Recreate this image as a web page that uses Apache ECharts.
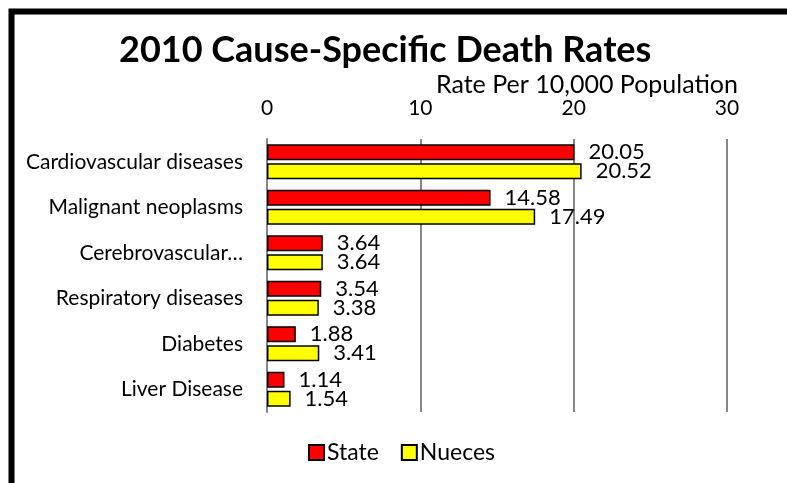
<!DOCTYPE html>
<html>
<head>
<meta charset="utf-8">
<script src="https://cdn.jsdelivr.net/npm/echarts@6/dist/echarts.min.js"></script>
<style>
html,body{margin:0;padding:0;background:#fff;}
#chart{width:787px;height:483px;}
</style>
</head>
<body>
<div id="chart"></div>
<script>
const categories = ["Cardiovascular diseases","Malignant neoplasms","Cerebrovascular…","Respiratory diseases","Diabetes","Liver Disease"];
const stateValues = [20.05, 14.58, 3.64, 3.54, 1.88, 1.14];
const nuecesValues = [20.52, 17.49, 3.64, 3.38, 3.41, 1.54];
const seriesNames = ["State","Nueces"];
const xTicks = [0, 10, 20, 30];

const FONT = 'Lato, "Open Sans", sans-serif';
const chart = echarts.init(document.getElementById('chart'), null, {renderer:'canvas'});
const labelStyle = {show:true, position:'right', distance:14, fontFamily:FONT, fontSize:22, color:'#000'};
chart.setOption({
  animation:false,
  backgroundColor:'#fff',
  title:{text:'2010 Cause-Specific Death Rates', left:114, top:27,
    textStyle:{fontFamily:FONT, fontWeight:'bold', fontSize:36, color:'#000'}},
  graphic:[{type:'rect', shape:{x:11.5, y:11.5, width:1200, height:1200},
    style:{fill:'none', stroke:'#000', lineWidth:6}, silent:true, z:100}],
  legend:{bottom:14, left:303, itemWidth:15, itemHeight:15, itemGap:22,
    textStyle:{fontFamily:FONT, fontSize:23, color:'#000', padding:[0,0,0,-2]},
    data:seriesNames.map(n=>({name:n, icon:'rect'}))},
  grid:{left:267, right:60, top:139, bottom:71, containLabel:false},
  xAxis:{type:'value', position:'top', min:xTicks[0], max:xTicks[xTicks.length-1], interval:10,
    name:'Rate Per 10,000 Population', nameLocation:'end', nameGap:11,
    nameTextStyle:{fontFamily:FONT, fontSize:25, color:'#000', align:'right', verticalAlign:'bottom', padding:[0,0,42,0]},
    axisLine:{show:false}, axisTick:{show:false},
    axisLabel:{fontFamily:FONT, fontSize:21, color:'#000', margin:20},
    splitLine:{show:true, lineStyle:{color:'#868686', width:2}}},
  yAxis:{type:'category', inverse:true, data:categories,
    axisLine:{show:true, lineStyle:{color:'#868686', width:2}}, axisTick:{show:false},
    axisLabel:{fontFamily:FONT, fontSize:21, color:'#000', margin:24}},
  series:[
    {name:seriesNames[0], type:'bar', data:stateValues, barWidth:16, barGap:'20%',
     itemStyle:{color:'#ff0000', borderColor:'#000', borderWidth:1.5}, label:labelStyle},
    {name:seriesNames[1], type:'bar', data:nuecesValues, barWidth:16, barGap:'20%',
     itemStyle:{color:'#ffff00', borderColor:'#000', borderWidth:1.5}, label:labelStyle}
  ]
});
</script>
</body>
</html>
